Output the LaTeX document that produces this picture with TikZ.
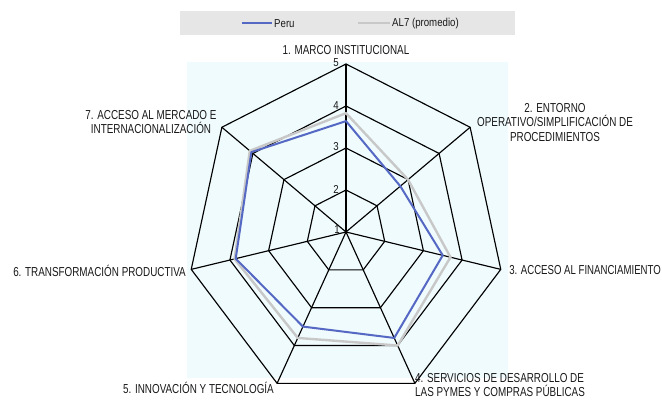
\documentclass[tikz,border=0pt]{standalone}
\usepackage{fontspec}
\setmainfont{Liberation Sans}[FakeStretch=0.84]
\newfontfamily\axisfont{Liberation Sans}[FakeStretch=0.76]
\newfontfamily\axisfontn{Liberation Sans}[FakeStretch=0.74]
\definecolor{peru}{RGB}{84,104,196}
\definecolor{alseven}{RGB}{200,200,200}
\definecolor{legbg}{RGB}{230,230,230}
\definecolor{plotbg}{RGB}{240,251,253}
\definecolor{txt}{RGB}{25,25,25}
\begin{document}
\begin{tikzpicture}[x=1pt,y=-1pt,
  font=\fontsize{11.5}{14.5}\selectfont,
  grid/.style={line width=1.15pt, black, line join=miter},
  lbl/.style={inner sep=0pt, text=txt},
  axlbl/.style={inner sep=0pt, text=txt, font=\axisfont\fontsize{13}{14.3}\selectfont},
  tick/.style={inner sep=0pt, text=txt, anchor=east, font=\fontsize{11.5}{13}\selectfont},
  peruline/.style={line width=2pt, peru, line join=round},
  alline/.style={line width=2.4pt, alseven, line join=round}]
\fill[white] (0,0) rectangle (662,403);
\useasboundingbox (0,0) rectangle (662,403);
\fill[legbg] (180,11) rectangle (515,35);
\coordinate (lp1) at (242,23);
\coordinate (lp2) at (272,23);
\coordinate (la1) at (358,23);
\coordinate (la2) at (390,23);
\draw[peruline] (lp1) -- (lp2);
\draw[alline,line width=1.6pt] (la1) -- (la2);
\node[lbl,anchor=west] (legperu) at (274,24) {Peru};
\node[lbl,anchor=west] (legal) at (392,24) {AL7 (promedio)};
\fill[plotbg] (187,62) rectangle (508,378);
\begin{scope}[shift={(346,232)}, xscale=0.945, yscale=-1]
  \coordinate (c) at (0,0);
  \foreach \k in {1,...,7} { \coordinate (v\k) at ({90-(\k-1)*360/7}:168); }
  \foreach \r in {42,84,126,168}
    \draw[grid] (90:\r) \foreach \k in {1,...,6} { -- ({90-\k*360/7}:\r) } -- cycle;
  \foreach \k in {1,...,7} \draw[grid] (c) -- (v\k);
  \foreach \v [count=\k] in {3.83,3.0,3.7,4.0,3.8,3.88,4.1}
    \coordinate (a\k) at ({90-(\k-1)*360/7}:{(\v-1)*42});
  \foreach \v [count=\k] in {3.64,2.75,3.5,3.8,3.5,3.85,4.05}
    \coordinate (p\k) at ({90-(\k-1)*360/7}:{(\v-1)*42});
  \draw[alline] (a1) -- (a2) -- (a3) -- (a4) -- (a5) -- (a6) -- (a7) -- cycle;
  \draw[peruline] (p1) -- (p2) -- (p3) -- (p4) -- (p5) -- (p6) -- (p7) -- cycle;
\end{scope}
\node[tick] (t5) at (339,63) {5};
\node[tick] (t4) at (339,106) {4};
\node[tick] (t3) at (339,147) {3};
\node[tick] (t2) at (339,189) {2};
\node[tick] (t1) at (340,230) {1};
\node[axlbl] (l1) at (346,50) {1. MARCO INSTITUCIONAL};
\node[axlbl,align=center] (l2) at (555,122.5) {2. ENTORNO\\OPERATIVO/SIMPLIFICACIÓN DE\\PROCEDIMIENTOS};
\node[axlbl,anchor=east,font=\axisfontn\fontsize{13}{14.3}\selectfont] (l3) at (661,270) {3. ACCESO AL FINANCIAMIENTO};
\node[axlbl,anchor=west,align=left] (l4) at (415,385) {4. SERVICIOS DE DESARROLLO DE\\LAS PYMES Y COMPRAS PÚBLICAS};
\node[axlbl,anchor=east] (l5) at (274,388) {5. INNOVACIÓN Y TECNOLOGÍA};
\node[axlbl,anchor=east] (l6) at (186,271) {6. TRANSFORMACIÓN PRODUCTIVA};
\node[axlbl,align=center] (l7) at (151,122) {7. ACCESO AL MERCADO E\\INTERNACIONALIZACIÓN};
\end{tikzpicture}
\end{document}
